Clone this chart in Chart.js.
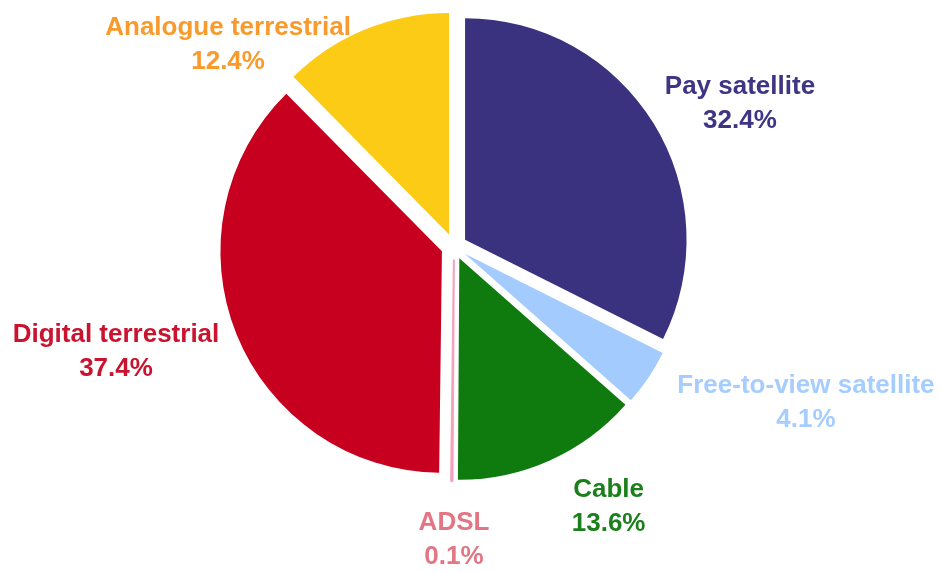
<!DOCTYPE html>
<html>
<head>
<meta charset="utf-8">
<script src="https://cdn.jsdelivr.net/npm/chart.js@4/dist/chart.umd.min.js"></script>
<style>
  html, body { margin: 0; padding: 0; background: #ffffff; }
  canvas { display: block; }
</style>
</head>
<body>
<canvas id="c" width="941" height="572"></canvas>
<script>
// ---- data ----
const categories = ["Pay satellite", "Free-to-view satellite", "Cable", "ADSL", "Digital terrestrial", "Analogue terrestrial"];
const shares = [32.4, 4.1, 13.6, 0.1, 37.4, 12.4];
const valueLabels = ["32.4%", "4.1%", "13.6%", "0.1%", "37.4%", "12.4%"];

// ---- styles ----
const sliceColors = ["#3b327f", "#a3cbfd", "#0f7b0f", "#f6a2bd", "#c8001f", "#fccb16"];
const sliceBorders = [0, 0, 0, 2, 0, 0]; // the tiny ADSL sliver gets an outline in its own colour so it stays visible
const labelColors = ["#3e3584", "#a6cdff", "#1b7f1b", "#e27684", "#c9132f", "#f89a2c"];
const explodePx = 13; // every slice pulled out from the centre by this many pixels
// label block centre, in units of the outer radius, relative to the pie centre
const labelLayout = [
  [1.291, -0.645],
  [1.589, 0.706],
  [0.698, 1.175],
  [0.000, 1.326],
  [-1.526, 0.474],
  [-1.020, -0.912]
];

// exploded slices: shift each arc along its mid angle without changing its radius
const arcProto = Chart.ArcElement.prototype;
const baseArcDraw = arcProto.draw;
arcProto.draw = function (ctx) {
  const half = (this.startAngle + this.endAngle) / 2;
  ctx.save();
  ctx.translate(Math.cos(half) * explodePx, Math.sin(half) * explodePx);
  baseArcDraw.call(this, ctx);
  ctx.restore();
};

const labelPlugin = {
  id: 'sliceLabels',
  afterDatasetsDraw(chart) {
    const meta = chart.getDatasetMeta(0);
    const ctx = chart.ctx;
    ctx.save();
    ctx.font = 'bold 26px "Liberation Sans", Arial, sans-serif';
    ctx.textAlign = 'center';
    ctx.textBaseline = 'middle';
    const lineGap = 34;
    meta.data.forEach((arc, i) => {
      const p = arc.getProps(['x', 'y', 'outerRadius'], true);
      const cx = p.x + labelLayout[i][0] * p.outerRadius;
      const cy = p.y + labelLayout[i][1] * p.outerRadius;
      ctx.fillStyle = labelColors[i];
      ctx.fillText(categories[i], cx, cy - lineGap / 2);
      ctx.fillText(valueLabels[i], cx, cy + lineGap / 2);
    });
    ctx.restore();
  }
};

new Chart(document.getElementById('c'), {
  type: 'pie',
  data: {
    labels: categories,
    datasets: [{
      data: shares,
      backgroundColor: sliceColors,
      borderColor: sliceColors,
      borderWidth: sliceBorders,
      clip: false
    }]
  },
  options: {
    responsive: false,
    animation: false,
    layout: { padding: { top: 24, bottom: 103, left: 0, right: 33 } },
    plugins: {
      legend: { display: false },
      tooltip: { enabled: false }
    }
  },
  plugins: [labelPlugin]
});
</script>
</body>
</html>
